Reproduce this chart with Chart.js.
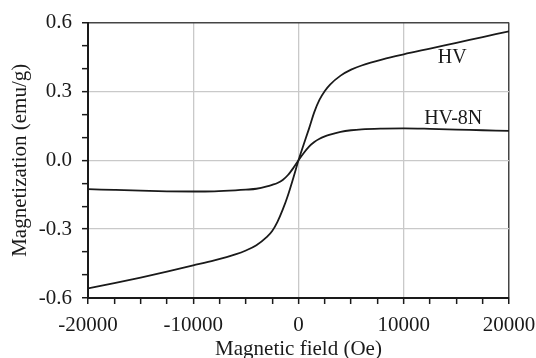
<!DOCTYPE html>
<html>
<head>
<meta charset="utf-8">
<script src="https://cdn.jsdelivr.net/npm/chart.js@4/dist/chart.umd.min.js"></script>
<style>
  html, body { margin: 0; padding: 0; background: #fff; }
  #wrap { width: 536px; height: 358px; }
</style>
</head>
<body>
<div id="wrap"><canvas id="c" width="536" height="358"></canvas></div>
<script>
// Applied magnetic field (Oe)
const field = [-20000, -17500, -15000, -12500, -10000, -8000, -6000, -5000, -4000, -3000,
  -2500, -2000, -1500, -1000, -500, 0, 500, 1000, 1500, 2000, 2500, 3000, 4000, 5000,
  6000, 8000, 10000, 12500, 15000, 17500, 20000];

// Magnetization (emu/g) of the two samples
const hv = [-0.558, -0.535, -0.511, -0.485, -0.458, -0.436, -0.410, -0.393, -0.370, -0.334,
  -0.308, -0.268, -0.215, -0.152, -0.078, 0.000, 0.070, 0.138, 0.210, 0.264, 0.302, 0.330,
  0.369, 0.395, 0.413, 0.440, 0.462, 0.487, 0.512, 0.537, 0.562];
const hv8n = [-0.126, -0.129, -0.132, -0.135, -0.136, -0.135, -0.131, -0.128, -0.124, -0.114,
  -0.107, -0.099, -0.086, -0.064, -0.034, 0.000, 0.032, 0.060, 0.080, 0.094, 0.104, 0.112,
  0.124, 0.131, 0.135, 0.138, 0.139, 0.137, 0.134, 0.131, 0.128];

const seriesNames = ['HV', 'HV-8N'];
// label anchor points in data units (field, magnetization)
const labelAt = [[14600, 0.447], [14700, 0.182]];

const xMajor = [-20000, -10000, 0, 10000, 20000];
const yMajor = [-0.6, -0.3, 0.0, 0.3, 0.6];

const FONT = "'Liberation Serif', 'Times New Roman', serif";
const INK = '#1a1a1a';

const toPts = ys => field.map((x, i) => ({ x, y: ys[i] }));

const seriesLabels = {
  id: 'seriesLabels',
  afterDatasetsDraw(chart) {
    const { ctx, scales: { x, y } } = chart;
    ctx.save();
    ctx.font = '20px ' + FONT;
    ctx.fillStyle = INK;
    ctx.textAlign = 'center';
    ctx.textBaseline = 'middle';
    seriesNames.forEach((name, i) => {
      ctx.fillText(name, x.getPixelForValue(labelAt[i][0]), y.getPixelForValue(labelAt[i][1]));
    });
    ctx.restore();
  }
};

const isMajorX = v => xMajor.some(m => Math.abs(m - v) < 1);
const isMajorY = v => yMajor.some(m => Math.abs(m - v) < 1e-6);
const isEdgeX = v => Math.abs(Math.abs(v) - 20000) < 1;
const isEdgeY = v => Math.abs(Math.abs(v) - 0.6) < 1e-6;

new Chart(document.getElementById('c'), {
  type: 'scatter',
  data: {
    datasets: [
      { label: seriesNames[0], data: toPts(hv), showLine: true, borderColor: INK, borderWidth: 1.8,
        pointRadius: 0, cubicInterpolationMode: 'monotone' },
      { label: seriesNames[1], data: toPts(hv8n), showLine: true, borderColor: INK, borderWidth: 1.8,
        pointRadius: 0, cubicInterpolationMode: 'monotone' }
    ]
  },
  options: {
    responsive: false,
    animation: false,
    layout: { padding: { top: 21, right: 27, left: 0, bottom: 0 } },
    plugins: { legend: { display: false }, tooltip: { enabled: false } },
    scales: {
      x: {
        type: 'linear', min: -20000, max: 20000,
        // the end labels may run past the plot edge; keep the frame fixed
        afterFit: s => { s.height = 60; s.paddingLeft = 0; s.paddingRight = 0; },
        ticks: {
          stepSize: 2500, autoSkip: false, maxRotation: 0, padding: 9,
          color: INK, font: { family: FONT, size: 21 },
          callback: v => isMajorX(v) ? String(v) : ''
        },
        grid: {
          color: c => isEdgeX(c.tick.value) ? '#444' : (isMajorX(c.tick.value) ? '#c9c9c9' : 'rgba(0,0,0,0)'),
          lineWidth: c => isEdgeX(c.tick.value) ? 1.5 : 1.3,
          tickColor: INK, tickLength: 6, tickWidth: 1.5
        },
        border: { color: INK, width: 2 },
        title: { display: true, text: 'Magnetic field (Oe)', color: INK,
          font: { family: FONT, size: 21 }, padding: { top: 0, bottom: -4 } }
      },
      y: {
        type: 'linear', min: -0.6, max: 0.6,
        afterFit: s => { s.width = 88; },
        ticks: {
          stepSize: 0.1, autoSkip: false, padding: 10,
          color: INK, font: { family: FONT, size: 21 },
          callback: v => isMajorY(v) ? (Math.round(v * 10) / 10).toFixed(1) : ''
        },
        grid: {
          color: c => isEdgeY(c.tick.value) ? '#444' : (isMajorY(c.tick.value) ? '#c9c9c9' : 'rgba(0,0,0,0)'),
          lineWidth: c => isEdgeY(c.tick.value) ? 1.5 : 1.3,
          tickColor: INK, tickLength: 6, tickWidth: 1.5
        },
        border: { color: INK, width: 2 },
        title: { display: true, text: 'Magnetization (emu/g)', color: INK,
          font: { family: FONT, size: 21 }, padding: { top: 8, bottom: 0 } }
      }
    }
  },
  plugins: [seriesLabels]
});
</script>
</body>
</html>
